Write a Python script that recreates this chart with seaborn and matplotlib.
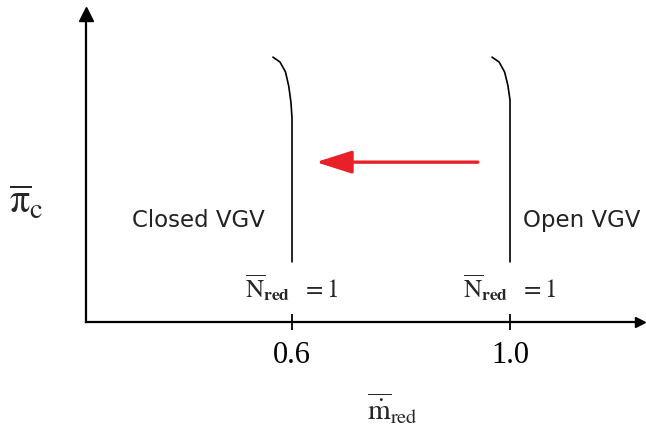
import numpy as np
import pandas as pd
import matplotlib
matplotlib.use("Agg")
import matplotlib.pyplot as plt
import seaborn as sns

# Speed lines (N_red = 1) of the compressor map for two VGV settings
closed_m = [0.565, 0.578, 0.588, 0.594, 0.598, 0.600, 0.600]
closed_pi = [0.860, 0.844, 0.812, 0.766, 0.714, 0.662, 0.195]
open_m = [0.967, 0.980, 0.990, 0.996, 1.000, 1.000]
open_pi = [0.860, 0.844, 0.812, 0.769, 0.721, 0.195]

tick_values = [0.6, 1.0]
tick_labels = ["0.6", "1.0"]
settings = ["Closed VGV", "Open VGV"]
speed_label = r"$\overline{\mathrm{N}}_{\mathbf{red}}\ \ =1$"

# Shift of the operating line when the vanes close
shift_from = 0.941
shift_to = 0.644
shift_pi = 0.519

df = pd.DataFrame({
    "m": closed_m + open_m,
    "pi": closed_pi + open_pi,
    "vgv": [settings[0]] * len(closed_m) + [settings[1]] * len(open_m),
})

sns.set_theme(style="white")
plt.rcParams["mathtext.fontset"] = "stix"
plt.rcParams["font.family"] = ["Liberation Serif", "DejaVu Serif"]

fig = plt.figure(figsize=(6.46, 4.32), dpi=100)
ax = fig.add_axes([86 / 646, 110 / 432, 554 / 646, 308 / 432])

sns.lineplot(data=df, x="m", y="pi", units="vgv", estimator=None, sort=False,
             color="black", linewidth=1.2, ax=ax, legend=False)

ax.set_xlim(0.222, 1.2385)
ax.set_ylim(0, 1)

# Axes drawn as arrows from the origin
for side in ["top", "right"]:
    ax.spines[side].set_visible(False)
for side in ["left", "bottom"]:
    ax.spines[side].set_linewidth(1.6)
    ax.spines[side].set_color("black")
ax.plot(1, 0, marker=">", color="black", markersize=7, transform=ax.transAxes, clip_on=False)
ax.plot(0, 1, marker="^", color="black", markersize=10, transform=ax.transAxes, clip_on=False)

ax.set_xticks(tick_values)
ax.set_xticklabels(tick_labels, fontsize=22, family="Liberation Serif")
ax.set_yticks([])
ax.tick_params(axis="x", bottom=True, direction="inout", length=12, width=1.3,
               pad=8, colors="black")

ax.set_xlabel("")
ax.set_ylabel("")
fig.text(392 / 646, 1 - 408 / 432, r"$\overline{\dot{\mathrm{m}}}_{\mathrm{red}}$",
         fontsize=21, ha="center", va="center")
fig.text(26 / 646, 1 - 203 / 432, r"$\overline{\mathrm{π}}_{\mathrm{c}}$",
         fontsize=29, ha="center", va="center")

# Setting labels
ax.text(0.4275, 0.331, settings[0], fontsize=16.5, family="DejaVu Sans",
        color="#222222", ha="center", va="center")
ax.text(1.132, 0.331, settings[1], fontsize=16.5, family="DejaVu Sans",
        color="#222222", ha="center", va="center")
for xv in tick_values:
    ax.text(xv, 0.110, speed_label, fontsize=18, ha="center", va="center")

ax.annotate("", xy=(shift_to, shift_pi), xytext=(shift_from, shift_pi),
            arrowprops=dict(arrowstyle="-|>,head_length=1.1,head_width=0.35",
                            mutation_scale=20, color="#e8202a", lw=2.4,
                            shrinkA=0, shrinkB=0))

fig.savefig("out.png", dpi=100)
